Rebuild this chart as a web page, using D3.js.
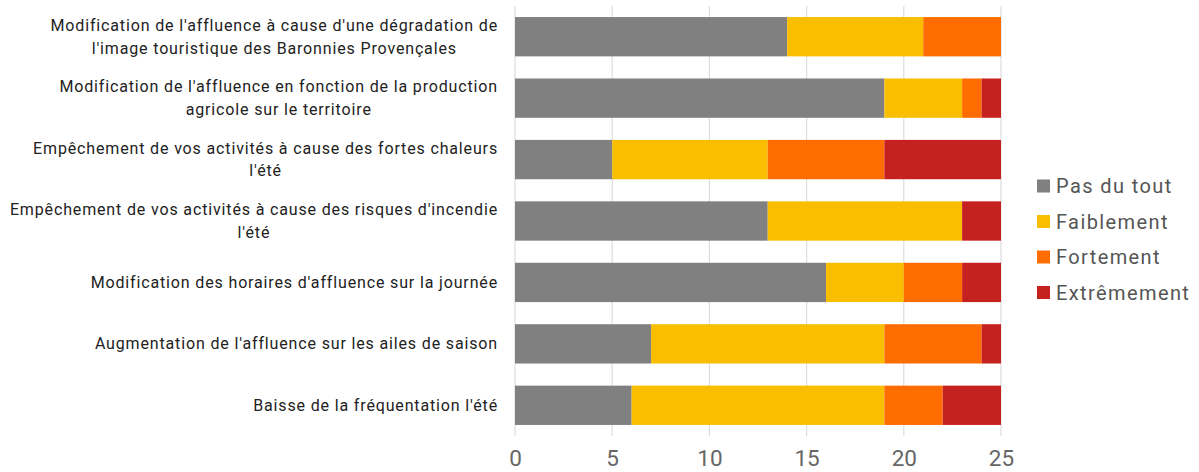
<!DOCTYPE html>
<html><head><meta charset="utf-8">
<script src="https://cdn.jsdelivr.net/npm/d3@7"></script>
<style>body{margin:0;background:#fff;}svg{display:block;font-family:Roboto,"Noto Sans",sans-serif;}</style>
</head><body>
<svg id="c" width="1199" height="472"></svg>
<script>
const categories = [
  ["Modification de l'affluence à cause d'une dégradation de", "l'image touristique des Baronnies Provençales"],
  ["Modification de l'affluence en fonction de la production", "agricole sur le territoire"],
  ["Empêchement de vos activités à cause des fortes chaleurs", "l'été"],
  ["Empêchement de vos activités à cause des risques d'incendie", "l'été"],
  ["Modification des horaires d'affluence sur la journée"],
  ["Augmentation de l'affluence sur les ailes de saison"],
  ["Baisse de la fréquentation l'été"]
];
const seriesNames = ["Pas du tout", "Faiblement", "Fortement", "Extrêmement"];
const pasDuTout   = [14, 19, 5, 13, 16, 7, 6];
const faiblement  = [7, 4, 8, 10, 4, 12, 13];
const fortement   = [4, 1, 6, 0, 3, 5, 3];
const extremement = [0, 1, 6, 2, 2, 1, 3];
const colors = ["#808080", "#f9be00", "#ff6d00", "#c5221f"];
const xTicks = [0, 5, 10, 15, 20, 25];

const values = [pasDuTout, faiblement, fortement, extremement];
const rows = categories.map((c, i) => {
  const o = {idx: i};
  seriesNames.forEach((s, j) => o[s] = values[j][i]);
  return o;
});
const stack = d3.stack().keys(seriesNames)(rows);

const svg = d3.select("#c");
const x = d3.scaleLinear().domain([0, 25]).range([515, 1001]);
const y = d3.scaleBand().domain(d3.range(categories.length)).range([6, 436]).paddingInner(0.36).paddingOuter(0.18);

// gridlines
svg.append("g").selectAll("line").data(xTicks).join("line")
  .attr("x1", d => x(d)).attr("x2", d => x(d))
  .attr("y1", 6).attr("y2", 436)
  .attr("stroke", "#dddddd").attr("stroke-width", 1.2);

// bars
svg.append("g").selectAll("g").data(stack).join("g")
  .attr("fill", (d, i) => colors[i])
  .selectAll("rect").data(d => d).join("rect")
  .attr("x", d => x(d[0]))
  .attr("width", d => x(d[1]) - x(d[0]))
  .attr("y", d => y(d.data.idx))
  .attr("height", y.bandwidth());

// x axis
const xAxis = d3.axisBottom(x).tickValues(xTicks).tickSize(0).tickPadding(0);
const gx = svg.append("g").attr("transform", "translate(0,459)").call(xAxis);
gx.select(".domain").remove();
gx.selectAll("text").attr("font-size", 22.5).attr("fill", "#666").attr("dy", "0.3em")
  .attr("font-family", "Roboto");

// category labels
const LS = 0.85;
const lab = svg.append("g");
categories.forEach((lines, i) => {
  const cy = y(i) + y.bandwidth() / 2;
  const lh = 22.5;
  const t = lab.append("text").attr("font-size", 16).attr("fill", "#222")
    .attr("text-anchor", "middle").attr("letter-spacing", LS);
  const tmp = lab.append("text").attr("font-size", 16).attr("letter-spacing", LS).text(lines[0]);
  const w = tmp.node().getComputedTextLength();
  tmp.remove();
  const cx = 498 - w / 2;
  lines.forEach((ln, k) => {
    t.append("tspan").attr("x", cx)
      .attr("y", cy + (k - (lines.length - 1) / 2) * lh)
      .attr("dy", "0.35em").text(ln);
  });
});

// legend
const leg = svg.append("g");
seriesNames.forEach((s, i) => {
  const ly = 186 + i * 35.5;
  leg.append("rect").attr("x", 1037).attr("y", ly - 6.5).attr("width", 13).attr("height", 13).attr("fill", colors[i]);
  leg.append("text").attr("x", 1056).attr("y", ly).attr("dy", "0.35em")
    .attr("font-size", 20).attr("letter-spacing", 1.4).attr("fill", "#555").text(s);
});
</script>
</body></html>
